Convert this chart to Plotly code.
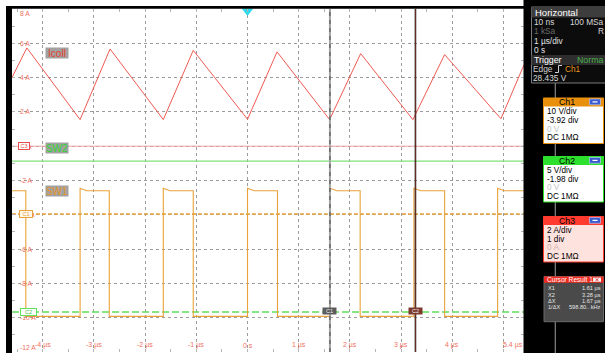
import plotly.graph_objects as go

# ---------------- data (in Ch3 axis units: A) ----------------
x_range = [-4.6, 5.4]          # µs
y_range = [-12, 8]             # A

icoll_t = [-4.6, -4.31, -3.27, -2.685, -1.645, -1.06, 0.0, 0.577, 1.604, 2.21, 3.23, 3.85, 4.95, 5.4]
icoll_a = [4.0, 5.73, 1.55, 5.67, 1.55, 5.59, 1.57, 5.5, 1.55, 5.4, 1.55, 5.34, 1.6, 4.75]

sw1_rise_t = [-3.27, -1.645, 0.0, 1.615, 3.25, 4.885]
sw1_fall_t = [-4.33, -2.70, -1.06, 0.585, 2.20, 3.85]
sw1_low = -9.92
sw1_high = -2.6
sw1_overshoot = -2.45
sw1_settle = 0.13

sw2_level = -0.87
ch3_ref_level = 0.0
trig_level = -3.95
ch2_marker_level = -9.67

cursor_t = [1.61, 3.28]
cursor_labels = ["C1", "C2"]

x_tick_vals = [-4, -3, -2, -1, 0, 1, 2, 3, 4, 5.4]
x_tick_text = ["-4 µs", "-3 µs", "-2 µs", "-1 µs", "0 s", "1 µs", "2 µs", "3 µs", "4 µs", "5.4 µs"]
y_tick_vals = [8, 6, 4, 2, 0, -2, -4, -6, -8, -10, -12]
y_tick_text = ["8 A", "6 A", "4 A", "2 A", "A", "-2 A", "A", "-6 A", "-8 A", "-10 A", "-12 A"]

horiz_rows = [("10 ns", "100 MSa"), ("1 kSa", "R"), ("1 µs/div", ""), ("0 s", "")]
trigger_info = ["Norma", "Ch1", "28.435 V"]
ch_boxes = [
    ("Ch1", ["10 V/div", "-3.92 div", "0 V", "DC 1MΩ"]),
    ("Ch2", ["5 V/div", "-1.98 div", "0 V", "DC 1MΩ"]),
    ("Ch3", ["2 A/div", "1 div", "0 A", "DC 1MΩ"]),
]
cursor_rows = [("X1", "1.61 µs"), ("X2", "3.28 µs"), ("ΔX", "1.67 µs"), ("1/ΔX", "598.80.. kHz")]

# ---------------- styling / geometry ----------------
FONT = "Liberation Sans, Arial, sans-serif"
W, H = 605, 353
PL, PR, PT, PB = 12, 524, 9, 352


def px(x):
    return (x - PL) / (PR - PL)


def py(y):
    return 1 - (y - PT) / (PB - PT)


RED = "#ef5a52"
ORANGE = "#e9a23b"
GREEN = "#5fe05a"
TICKC = "#f07060"

# SW1 step path from edges
events = sorted([(t, "r") for t in sw1_rise_t] + [(t, "f") for t in sw1_fall_t])
sw1_x = [x_range[0]]
sw1_y = [sw1_high]
for t, k in events:
    if k == "f":
        sw1_x += [t, t]
        sw1_y += [sw1_high, sw1_low]
    else:
        sw1_x += [t, t, t + sw1_settle]
        sw1_y += [sw1_low, sw1_overshoot, sw1_high]
sw1_x.append(x_range[1])
sw1_y.append(sw1_high)

fig = go.Figure()
fig.add_trace(go.Scatter(x=x_range, y=[ch3_ref_level] * 2, mode="lines",
                         line=dict(color="#f2a3a3", width=1), hoverinfo="skip"))
fig.add_trace(go.Scatter(x=x_range, y=[sw2_level] * 2, mode="lines",
                         line=dict(color="#7ee279", width=1.2), hoverinfo="skip"))
fig.add_trace(go.Scatter(x=x_range, y=[ch2_marker_level] * 2, mode="lines",
                         line=dict(color=GREEN, width=1.5, dash="7px,3px"), hoverinfo="skip"))
fig.add_trace(go.Scatter(x=x_range, y=[trig_level] * 2, mode="lines",
                         line=dict(color=ORANGE, width=1.5, dash="4px,2px"), hoverinfo="skip"))
fig.add_trace(go.Scatter(x=sw1_x, y=sw1_y, mode="lines",
                         line=dict(color=ORANGE, width=1.1), hoverinfo="skip"))
fig.add_trace(go.Scatter(x=icoll_t, y=icoll_a, mode="lines",
                         line=dict(color=RED, width=1), hoverinfo="skip"))
fig.add_trace(go.Scatter(x=[0], y=[7.88], mode="markers", cliponaxis=False,
                         marker=dict(symbol="triangle-down", size=10, color="#2fd9ea",
                                     line=dict(width=0)), hoverinfo="skip"))

shapes = []
ann = []


def R(x0, y0, x1, y1, fill, line=None, lw=1, layer="above"):
    shapes.append(dict(type="rect", xref="paper", yref="paper",
                       x0=px(x0), x1=px(x1), y0=py(y1), y1=py(y0),
                       fillcolor=fill, layer=layer,
                       line=dict(color=line if line else fill, width=lw if line else 0)))


def L(x0, y0, x1, y1, color, w=1, dash=None):
    d = dict(type="line", xref="paper", yref="paper", x0=px(x0), x1=px(x1),
             y0=py(y0), y1=py(y1), layer="above", line=dict(color=color, width=w))
    if dash:
        d["line"]["dash"] = dash
    shapes.append(d)


def T(x, y, text, color, size, anchor="left", **kw):
    d = dict(x=px(x), y=py(y), xref="paper", yref="paper", text=text, showarrow=False,
             xanchor=anchor, yanchor="middle", borderpad=0,
             font=dict(family=FONT, size=size, color=color))
    d.update(kw)
    ann.append(d)


# cursors
shapes.append(dict(type="line", xref="x", yref="paper", x0=cursor_t[0], x1=cursor_t[0], y0=0, y1=1,
                   layer="above", line=dict(color="#a4a4a4", width=2)))
shapes.append(dict(type="line", xref="x", yref="paper", x0=cursor_t[0], x1=cursor_t[0], y0=0, y1=1,
                   layer="above", line=dict(color="#4a4a4a", width=1, dash="4px,4px")))
shapes.append(dict(type="line", xref="x", yref="paper", x0=cursor_t[1], x1=cursor_t[1], y0=0, y1=1,
                   layer="above", line=dict(color="#2a2a2a", width=1.6)))
shapes.append(dict(type="line", xref="x", yref="paper", x0=cursor_t[1], x1=cursor_t[1], y0=0, y1=1,
                   layer="above", line=dict(color="#a03020", width=0.5)))

# frame
R(6, 6, W + 1, 8.8, "black")
R(6, 6, PL, H + 1, "black")
R(PR - 0.5, -1, W + 1, H + 1, "black")

# Horizontal box
R(531.5, 7, 606, 83, "#0c0c0c", "#7a7a7a", 1)
R(531.5, 7, 606, 17.5, "#3d3d3d")
R(531.5, 55, 606, 65, "#2e2e2e")
L(555.3, 83, 555.3, H + 1, "#858585", 1.2)
T(534, 12.3, "Horizontal", "white", 9.5)
rows_y = [21.5, 30.7, 40.5, 50]
row_cols = [("#d8d8d8", "#d8d8d8"), ("#6a6a6a", "#d8d8d8"), ("#e0e0e0", ""), ("#e0e0e0", "")]
for (a, b), yy, (ca, cb) in zip(horiz_rows, rows_y, row_cols):
    T(533, yy, a, ca, 8.3)
    if b:
        T(604.5, yy, b, cb, 8.3, anchor="right")
T(533, 60, "Trigger", "white", 8.8)
T(604.5, 60, trigger_info[0], "#49b04c", 8.8, anchor="right")
T(532, 69.3, "Edge", "#d0d0d0", 8.3)
shapes.append(dict(type="path", xref="paper", yref="paper", layer="above",
                   path="M {},{} L {},{} L {},{} L {},{}".format(
                       px(555), py(72.5), px(558.5), py(72.5), px(558.5), py(65.5), px(562), py(65.5)),
                   line=dict(color="#d0d0d0", width=1)))
T(564, 69.3, trigger_info[1], "#e8961e", 8.3)
T(532, 78.3, trigger_info[2], "#d8d8d8", 8.3)

# channel boxes
box_tops = [98, 156.5, 216.5]
hdr_cols = ["#e8900c", "#2ee02e", "#ff3b2f"]
body_cols = ["white", "white", "#fde2de"]
dim_cols = ["#c4c4c4", "#c4c4c4", "#d4b2ae"]
for (title, rows), top, hc, bc, dc in zip(ch_boxes, box_tops, hdr_cols, body_cols, dim_cols):
    R(543.5, top, 603.5, top + 45.5, bc, hc, 1)
    R(543.5, top, 603.5, top + 8.5, hc)
    T(566.5, top + 4.3, title, "black", 8.8, anchor="center")
    R(589.5, top + 1, 600.5, top + 6.8, "#3a5cd0", "#c8d4ff", 0.6)
    L(592.5, top + 3.9, 597.5, top + 3.9, "white", 1.2)
    for i, (txt, dy) in enumerate(zip(rows, [14.0, 22.6, 31.2, 39.8])):
        T(545.5, top + dy, txt, dc if i == 2 else "black", 8.2)

# cursor result box
R(544, 276.5, 603.5, 321.7, "#4a4a4a", "#6a6a6a", 1)
R(544, 276.5, 603.5, 282.8, "#f02a20")
T(546, 279.7, "Cursor Result 1", "white", 6.6)
R(593, 277.6, 601, 281.8, "#f4f4f4")
L(595.5, 278.4, 598.5, 281, "#e02020", 0.8)
L(595.5, 281, 598.5, 278.4, "#e02020", 0.8)
for (a, b), yy in zip(cursor_rows, [288.2, 294.6, 301.0, 307.4]):
    T(547, yy, a, "#e6e6e6", 5.6)
    T(602, yy, b, "#e6e6e6", 5.6, anchor="right")

# axis tick labels (inside the plot); labels hidden behind channel badges show only the unit
badge_right = {0: 26.3, -4: 28.8}
for v, t in zip(y_tick_vals, y_tick_text):
    ys = -4 if v == y_range[1] else (5 if v == y_range[0] else 0)
    xl = badge_right.get(v, 19)
    ann.append(dict(x=px(xl), xref="paper", y=v, yref="y", text=t, showarrow=False,
                    xanchor="left", yanchor="middle", yshift=ys, borderpad=0,
                    font=dict(family=FONT, size=6.8, color=TICKC)))
for v, t in zip(x_tick_vals, x_tick_text):
    ann.append(dict(x=v, xref="x", y=py(345), yref="paper", text=t, showarrow=False,
                    xanchor="right" if v == x_range[1] else "center", yanchor="middle", borderpad=0,
                    font=dict(family=FONT, size=7, color=TICKC)))

# channel badges
ann.append(dict(x=px(18), xref="paper", y=ch3_ref_level, yref="y", text="C3", showarrow=False,
                width=10, height=6, bgcolor="white", bordercolor="#e85050", borderwidth=1, borderpad=0,
                font=dict(family=FONT, size=5.5, color="#e85050")))
ann.append(dict(x=px(19.3), xref="paper", y=trig_level, yref="y", text="C1", showarrow=False,
                width=12, height=6, bgcolor="#fff8ea", bordercolor=ORANGE, borderwidth=1, borderpad=0,
                font=dict(family=FONT, size=5.5, color=ORANGE)))
ann.append(dict(x=px(20.3), xref="paper", y=ch2_marker_level, yref="y", text="C2", showarrow=False,
                width=15, height=6, bgcolor="white", bordercolor=GREEN, borderwidth=1, borderpad=0,
                font=dict(family=FONT, size=5.5, color="#3cc03c")))

# trace labels
for txt, yy, col in [("Icoll", 52.7, "#e8402a"), ("SW2", 148, "#2fd52f"), ("SW1", 191, "#e8962a")]:
    T(56.8, yy, txt, col, 10, anchor="center", bgcolor="#a2a2a2", width=22, height=10)

# cursor labels
for ct, lab, bg in zip(cursor_t, cursor_labels, ["#5c5c5c", "#7c3a2e"]):
    ann.append(dict(x=ct, xref="x", y=py(315), yref="paper", text=lab, showarrow=False,
                    width=13, height=6, bgcolor=bg, borderpad=0,
                    font=dict(family=FONT, size=5.5, color="#f0f0f0")))

axis_common = dict(showgrid=True, gridcolor="#9c9c9c", griddash="dot", gridwidth=1,
                   zeroline=False, showticklabels=False, ticks="inside", ticklen=3,
                   tickcolor="#b5b5b5", mirror="ticks", showline=False, fixedrange=True)
fig.update_layout(
    width=W, height=H, margin=dict(l=PL, r=W - PR, t=PT, b=H - PB),
    paper_bgcolor="white", plot_bgcolor="white", showlegend=False,
    xaxis=dict(range=x_range, tick0=0, dtick=1,
               minor=dict(dtick=0.5, ticks="inside", ticklen=3, tickcolor="#b5b5b5", showgrid=False),
               **axis_common),
    yaxis=dict(range=y_range, tick0=0, dtick=2,
               minor=dict(dtick=1, ticks="inside", ticklen=3, tickcolor="#b5b5b5", showgrid=False),
               **axis_common),
    shapes=shapes, annotations=ann,
)

fig.write_html("out.html", config={"displayModeBar": False},
               post_script="document.body.style.margin='0px';document.body.style.padding='0px';"
                           "document.documentElement.style.overflow='hidden';")
